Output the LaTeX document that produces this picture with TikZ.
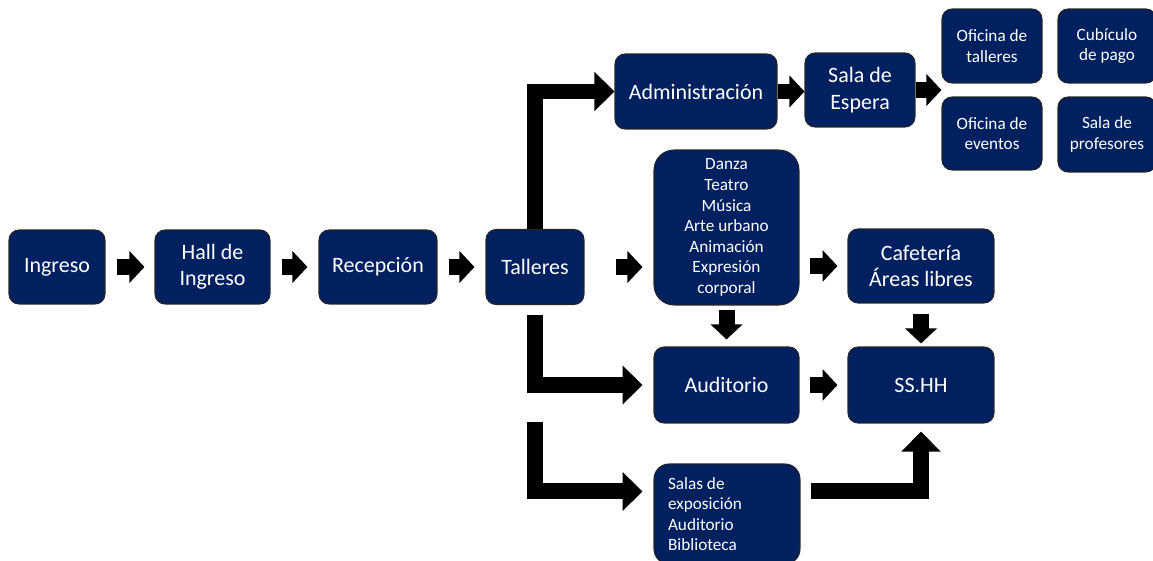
\documentclass[tikz,border=0pt]{standalone}
\usepackage{fontspec}
\setmainfont{Carlito}
\usepackage{tikz}
\usetikzlibrary{arrows.meta,calc}
\usepackage{xcolor}
\definecolor{navy}{RGB}{0,32,96}

\begin{document}
\begin{tikzpicture}[x=0.02cm,y=-0.02cm,
  box/.style={draw=black!85,line width=0.6pt,fill=navy,text=white,rounded corners=0.2cm,align=center,inner sep=2pt,font=\fontsize{12.5}{15}\selectfont},
  small/.style={font=\fontsize{9.8}{11.7}\selectfont},
  blk/.style={line width=0.32cm,-{Triangle[length=0.3cm,width=0.62cm]}},
  bigblk/.style={line width=0.32cm,line join=miter,-{Triangle[length=0.4cm,width=0.76cm]}}]
\useasboundingbox (0,0) rectangle (1153,561);
\clip (0,0) rectangle (1153,561);
% main row
\node[box,minimum width=1.92cm,minimum height=1.48cm] (ing) at (57,267) {Ingreso};
\node[box,minimum width=2.3cm,minimum height=1.48cm] (hal) at (212.5,267) {Hall de\\Ingreso};
\node[box,minimum width=2.36cm,minimum height=1.48cm] (rec) at (378,267) {Recepción};
\node[box,minimum width=1.96cm,minimum height=1.5cm] (tal) at (535,267) {Talleres};
% upper branch
\node[box,minimum width=3.24cm,minimum height=1.5cm] (adm) at (696,91.5) {Administración};
\node[box,minimum width=2.2cm,minimum height=1.48cm] (esp) at (860,90) {Sala de\\Espera};
\node[box,small,minimum width=2cm,minimum height=1.48cm] (oft) at (992,46) {Oficina de\\talleres};
\node[box,small,minimum width=1.96cm,minimum height=1.48cm] (cub) at (1107,46) {Cubículo\\de pago};
\node[box,small,minimum width=2cm,minimum height=1.46cm] (ofe) at (992,133.5) {Oficina de\\eventos};
\node[box,small,minimum width=1.96cm,minimum height=1.5cm] (pro) at (1107,134.5) {Sala de\\profesores};
% workshops and services
\node[box,small,rounded corners=0.4cm,minimum width=2.9cm,minimum height=3.1cm] (dan) at (726.5,227.5) {Danza\\Teatro\\Música\\Arte urbano\\Animación\\Expresión\\corporal};
\node[box,minimum width=2.92cm,minimum height=1.48cm] (caf) at (921,266) {Cafetería\\Áreas libres};
\node[box,minimum width=2.9cm,minimum height=1.52cm] (aud) at (726.5,385) {Auditorio};
\node[box,minimum width=2.92cm,minimum height=1.52cm] (ssh) at (921,385) {SS.HH};
\node[box,small,rounded corners=0.3cm,align=flush left,inner xsep=0.28cm,text width=2.36cm,minimum height=2cm] (sal) at (727,514) {Salas de\\exposición\\Auditorio\\Biblioteca};
% straight arrows
\draw[blk,shorten <=0.22cm,shorten >=0.2cm] (ing) -- (hal);
\draw[blk,shorten <=0.22cm,shorten >=0.22cm] (hal) -- (rec);
\draw[blk,shorten <=0.22cm,shorten >=0.22cm] (rec) -- (tal);
\draw[blk,shorten <=0.62cm,shorten >=0.22cm] (tal.east) -- (tal.east -| dan.west);
\draw[blk,shorten <=0.2cm,shorten >=0.2cm] (dan.east |- caf) -- (caf.west);
\draw[blk,shorten <=0.2cm,shorten >=0.2cm] (aud) -- (ssh);
\draw[blk,shorten <=0.08cm,shorten >=0.14cm] (dan) -- (aud);
\draw[blk,shorten <=0.2cm,shorten >=0.06cm] (caf) -- (ssh);
\draw[blk] (adm.east) -- (adm.east -| esp.west);
\draw[blk] (esp.east) -- (esp.east -| oft.west);
% elbow arrows
\draw[bigblk] (tal.north) |- (adm.west);
\draw[bigblk,shorten >=0.22cm] ($(tal.south)+(0,10)$) |- (aud.west);
\draw[bigblk,shorten >=0.22cm] ($(tal.south)+(0,117)$) |- ($(sal.north west)+(0,28)$);
\draw[bigblk,shorten >=0.16cm] ($(sal.north east)+(10,28)$) -| (ssh.south);
\end{tikzpicture}
\end{document}
